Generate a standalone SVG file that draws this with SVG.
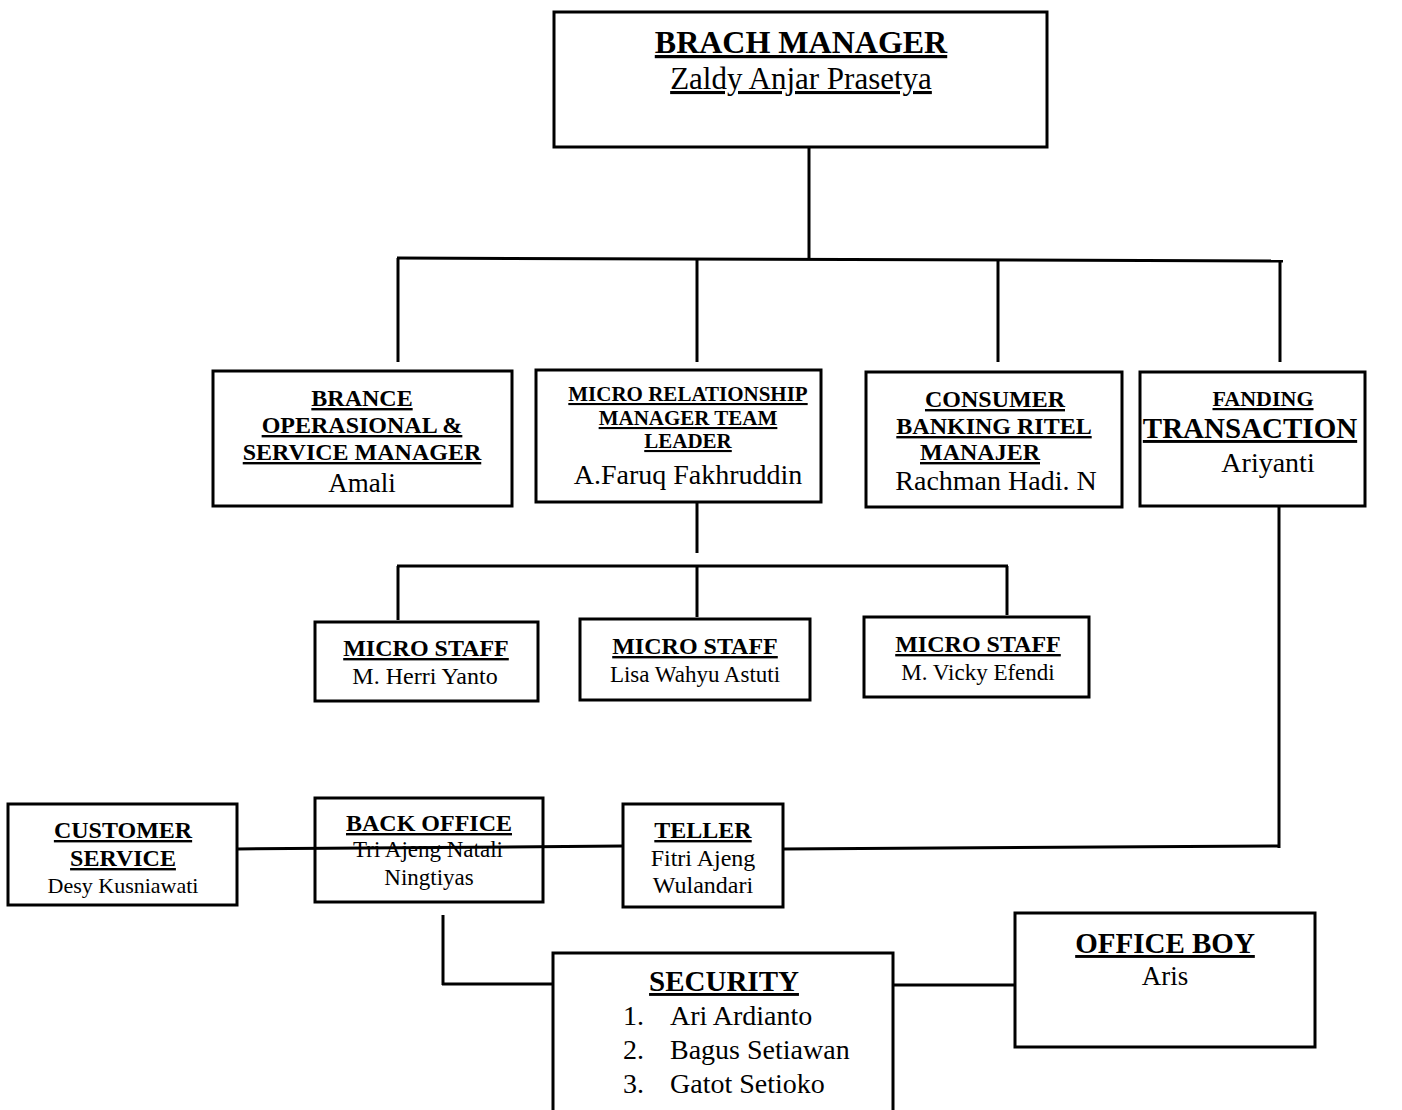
<svg xmlns="http://www.w3.org/2000/svg" width="1402" height="1110" viewBox="0 0 1402 1110">
<style>
  .box { fill: #ffffff; stroke: #000000; stroke-width: 3; }
  .ln { fill: none; stroke: #000000; stroke-width: 3; }
  text { font-family: "Liberation Serif", "Times New Roman", serif; fill: #000000; text-anchor: middle; }
  .t { font-weight: bold; text-decoration: underline; }
  .n { font-weight: normal; }
  .s { text-anchor: start; }
</style>
<rect width="1402" height="1110" fill="#ffffff"/>

<g id="brach-manager">
  <rect class="box" x="554" y="12" width="493" height="135"/>
  <text class="t" x="801" y="53" font-size="32">BRACH MANAGER</text>
  <text class="n" x="801" y="89" font-size="31" text-decoration="underline">Zaldy Anjar Prasetya</text>
</g>

<g id="brance-operasional">
  <rect class="box" x="213" y="371" width="299" height="135"/>
  <text class="t" x="362" y="406" font-size="24">BRANCE</text>
  <text class="t" x="362" y="433" font-size="24">OPERASIONAL &amp;</text>
  <text class="t" x="362" y="460" font-size="24">SERVICE MANAGER</text>
  <text class="n" x="362" y="492" font-size="27">Amali</text>
</g>

<g id="micro-relationship">
  <rect class="box" x="536" y="370" width="285" height="132"/>
  <text class="t" x="688" y="401" font-size="21">MICRO RELATIONSHIP</text>
  <text class="t" x="688" y="425" font-size="21">MANAGER TEAM</text>
  <text class="t" x="688" y="448" font-size="21">LEADER</text>
  <text class="n" x="688" y="484" font-size="28">A.Faruq Fakhruddin</text>
</g>

<g id="consumer-banking">
  <rect class="box" x="866" y="372" width="256" height="135"/>
  <text class="t" x="995" y="407" font-size="24">CONSUMER</text>
  <text class="t" x="994" y="434" font-size="24">BANKING RITEL</text>
  <text class="t" x="980" y="460" font-size="24">MANAJER </text>
  <text class="n" x="996" y="490" font-size="28">Rachman Hadi. N</text>
</g>

<g id="fanding-transaction">
  <rect class="box" x="1140" y="372" width="225" height="134"/>
  <text class="t" x="1263" y="406" font-size="22">FANDING</text>
  <text class="t" x="1250" y="438" font-size="29">TRANSACTION</text>
  <text class="n" x="1268" y="472" font-size="28">Ariyanti</text>
</g>

<g id="micro-staff-1">
  <rect class="box" x="315" y="622" width="223" height="79"/>
  <text class="t" x="426" y="656" font-size="24">MICRO STAFF</text>
  <text class="n" x="425" y="684" font-size="24">M. Herri Yanto</text>
</g>

<g id="micro-staff-2">
  <rect class="box" x="580" y="619" width="230" height="81"/>
  <text class="t" x="695" y="654" font-size="24">MICRO STAFF</text>
  <text class="n" x="695" y="682" font-size="23">Lisa Wahyu Astuti</text>
</g>

<g id="micro-staff-3">
  <rect class="box" x="864" y="617" width="225" height="80"/>
  <text class="t" x="978" y="652" font-size="24">MICRO STAFF</text>
  <text class="n" x="978" y="680" font-size="23">M. Vicky Efendi</text>
</g>

<g id="customer-service">
  <rect class="box" x="8" y="804" width="229" height="101"/>
  <text class="t" x="123" y="838" font-size="24">CUSTOMER</text>
  <text class="t" x="123" y="866" font-size="24">SERVICE</text>
  <text class="n" x="123" y="893" font-size="22">Desy Kusniawati</text>
</g>

<g id="back-office">
  <rect class="box" x="315" y="798" width="228" height="104"/>
  <text class="t" x="429" y="831" font-size="24">BACK OFFICE</text>
  <text class="n" x="428" y="857" font-size="23">Tri Ajeng Natali</text>
  <text class="n" x="429" y="885" font-size="23">Ningtiyas</text>
</g>

<g id="teller">
  <rect class="box" x="623" y="804" width="160" height="103"/>
  <text class="t" x="703" y="838" font-size="24">TELLER</text>
  <text class="n" x="703" y="866" font-size="24">Fitri Ajeng</text>
  <text class="n" x="703" y="893" font-size="24">Wulandari</text>
</g>

<g id="security">
  <rect class="box" x="553" y="953" width="340" height="170"/>
  <text class="t" x="724" y="991" font-size="29">SECURITY</text>
  <text class="n s" x="623" y="1025" font-size="28">1.</text>
  <text class="n s" x="670" y="1025" font-size="28">Ari Ardianto</text>
  <text class="n s" x="623" y="1059" font-size="28">2.</text>
  <text class="n s" x="670" y="1059" font-size="28">Bagus Setiawan</text>
  <text class="n s" x="623" y="1093" font-size="28">3.</text>
  <text class="n s" x="670" y="1093" font-size="28">Gatot Setioko</text>
</g>

<g id="office-boy">
  <rect class="box" x="1015" y="913" width="300" height="134"/>
  <text class="t" x="1165" y="953" font-size="29">OFFICE BOY</text>
  <text class="n" x="1165" y="985" font-size="27">Aris</text>
</g>

<g id="connectors">
  <path class="ln" d="M809 147 V259"/>
  <path class="ln" d="M397 258 L1283 261"/>
  <path class="ln" d="M398 258 V362"/>
  <path class="ln" d="M697 260 V362"/>
  <path class="ln" d="M998 261 V362"/>
  <path class="ln" d="M1280 261 V362"/>
  <path class="ln" d="M697 502 V553"/>
  <path class="ln" d="M397 566 H1008"/>
  <path class="ln" d="M398 566 V620"/>
  <path class="ln" d="M697 566 V617"/>
  <path class="ln" d="M1007 566 V615"/>
  <path class="ln" d="M1279 506 V848"/>
  <path class="ln" d="M1280 846 L783 849"/>
  <path class="ln" d="M237 849 L623 846"/>
  <path class="ln" d="M443 915 V985"/>
  <path class="ln" d="M442 984 H553"/>
  <path class="ln" d="M893 985 H1015"/>
</g>
</svg>
